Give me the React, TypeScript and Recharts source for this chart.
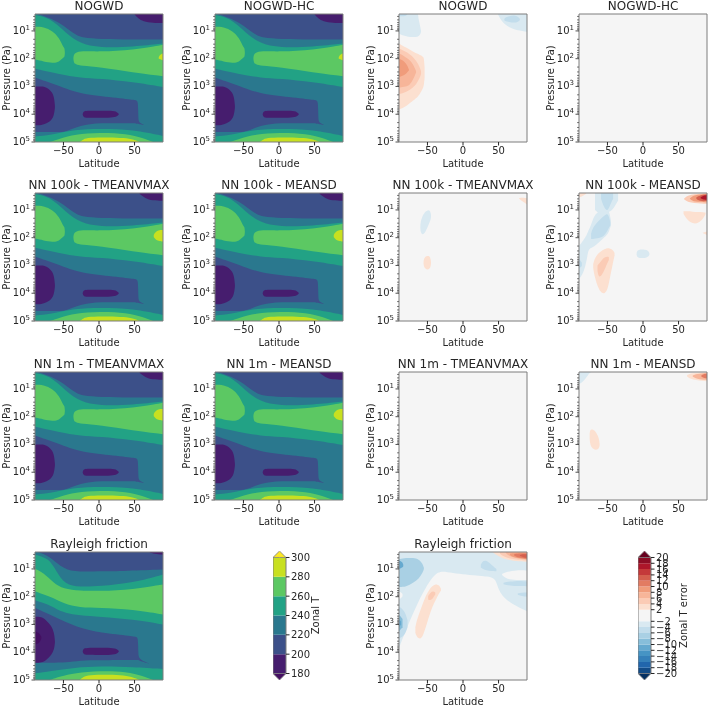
import React from 'react';
import { ComposedChart, Area, XAxis, YAxis, ReferenceArea, ReferenceLine } from 'recharts';

type Pt = [number, number, number];
type Layer = { fill: string; pts: Pt[] };

const FONT = '"DejaVu Sans", sans-serif';
const INK = '#262626';
const EDGE = '#7d7d7d';

// viridis contour bands
const V1 = '#461d6e', V2 = '#3c5089', V3 = '#2a788e', V4 = '#22a285', V5 = '#5cc863', V6 = '#c8e020';
// RdBu_r contour bands
const NEUTRAL = '#f5f5f5';
const R1 = '#fce0d0', R2 = '#fbcbb5', R3 = '#f7b599', R4 = '#f09c7b', R5 = '#e27b62', R6 = '#d45f4e', R7 = '#c4393a', R8 = '#ad162a', R9 = '#8c0d25', R10 = '#67001f';
const B1 = '#d9e9f1', B2 = '#c2ddec', B3 = '#a9d0e4', B4 = '#87beda', B5 = '#65a9cf', B6 = '#4694c4', B7 = '#3580b9', B8 = '#2166ac', B9 = '#134c87', B10 = '#053061';

// every point is [latitude, log10 pressure upper edge, log10 pressure lower edge]
const fullField: Pt[] = [[-90, 0.3, 5.1], [90, 0.3, 5.1]];

const tUpperGreen: Pt[] = [[-90, 0.43, 2.36], [-69, 0.52, 2.48], [-46, 1.09, 2.6], [-27, 1.45, 2.68], [1, 1.61, 2.72], [48, 1.57, 2.84], [90, 1.45, 3.02]];
const tTopBlue: Pt[] = [[-86, 0.3, 0.39], [-55, 0.3, 0.67], [-34, 0.3, 1.15], [-18, 0.3, 1.31], [90, 0.3, 1.31]];
const tLeftLight: Pt[] = [[-90, 0.85, 2.03], [-78, 0.85, 2.1], [-65, 1.0, 2.16], [-56, 1.25, 2.12], [-50, 1.6, 1.95], [-48.5, 1.6, 1.95], [-48, 1.78, 1.8]];
const tRightLight: Pt[] = [[-36, 1.98, 2.0], [-35.5, 1.86, 2.14], [-33, 1.78, 2.2], [-25, 1.72, 2.26], [1, 1.75, 2.3], [48, 1.69, 2.5], [90, 1.5, 2.63]];
const tMidBlue: Pt[] = [[-90, 2.68, 4.64], [-62, 2.92, 4.64], [-46, 3.08, 4.64], [-27, 3.25, 4.4], [1, 3.35, 4.31], [48, 3.48, 4.33], [53, 3.5, 4.34], [54.5, 3.55, 4.34], [55, 3.75, 4.34], [55.3, 4.15, 4.34], [56, 4.3, 4.36], [63, 4.37, 4.38]];
const tLowGreen: Pt[] = [[-90, 4.8, 5.1], [-69, 4.76, 5.1], [-34, 4.55, 5.1], [1, 4.52, 5.1], [48, 4.55, 5.1], [90, 4.78, 5.1]];
const tLowLight: Pt[] = [[-69, 5.0, 5.1], [-55, 4.88, 5.1], [-34, 4.72, 5.1], [1, 4.66, 5.1], [39, 4.7, 5.1], [62, 4.86, 5.1], [76, 5.0, 5.1]];
const tLowYellow: Pt[] = [[-27, 5.0, 5.1], [-22, 4.9, 5.1], [-15, 4.84, 5.1], [15, 4.83, 5.1], [35, 4.85, 5.1], [50, 4.92, 5.1], [57, 5.0, 5.1]];
const tLeftPurple: Pt[] = [[-90, 3.0, 4.4], [-81, 3.0, 4.4], [-74, 3.02, 4.34], [-66, 3.2, 4.2], [-63, 3.4, 4.0], [-62, 3.7, 3.76]];
const tMidPurple: Pt[] = [[-23, 4.0, 4.0], [-22, 3.9, 4.1], [-18, 3.87, 4.13], [0, 3.87, 4.13], [18, 3.87, 4.13], [26, 3.92, 4.08], [28, 4.0, 4.0]];
const tTopPurple: Pt[] = [[50, 0.3, 0.4], [55, 0.3, 0.55], [62, 0.3, 0.66], [76, 0.3, 0.71], [90, 0.3, 0.71]];
const tTipYellow: Pt[] = [[84, 1.95, 2.0], [86, 1.85, 2.02], [90, 1.81, 2.06]];
const nnTopPurple: Pt[] = [[57, 0.3, 0.42], [65, 0.3, 0.58], [75, 0.3, 0.67], [90, 0.3, 0.67]];
const nnTipYellow: Pt[] = [[77, 1.9, 1.98], [80, 1.78, 2.08], [85, 1.72, 2.12], [90, 1.72, 2.14]];

const rfUpperGreen: Pt[] = [[-90, 0.485, 2.13], [-71, 0.605, 2.28], [-60, 1.08, 2.45], [-48, 1.56, 2.58], [-27, 1.65, 2.68], [1, 1.62, 2.72], [48, 1.5, 2.82], [90, 1.2, 3.0]];
const rfTopBlue: Pt[] = [[-88, 0.3, 0.37], [-69, 0.3, 0.545], [-55, 0.3, 0.905], [-36, 0.3, 1.12], [1, 0.3, 1.08], [29, 0.3, 1.08], [90, 0.3, 1.02]];
const rfLight: Pt[] = [[-90, 1.0, 1.8], [-78, 1.14, 1.92], [-64, 1.5, 2.04], [-50, 1.72, 2.25], [-27, 1.78, 2.4], [1, 1.8, 2.4], [48, 1.74, 2.46], [90, 1.56, 2.64]];
const rfMidBlue: Pt[] = [[-90, 2.4, 4.38], [-69, 2.64, 4.38], [-46, 2.92, 4.38], [-27, 3.12, 4.29], [1, 3.3, 4.29], [48, 3.42, 4.28], [53, 3.45, 4.28], [54.5, 3.5, 4.28], [55, 3.7, 4.28], [55.3, 4.05, 4.28], [56, 4.25, 4.3], [70, 4.4, 4.41]];
const rfLowGreen: Pt[] = [[-90, 4.76, 5.1], [-69, 4.68, 5.1], [-34, 4.55, 5.1], [1, 4.5, 5.1], [48, 4.53, 5.1], [90, 4.6, 5.1]];
const rfLowLight: Pt[] = [[-69, 5.0, 5.1], [-55, 4.88, 5.1], [-34, 4.75, 5.1], [1, 4.67, 5.1], [39, 4.7, 5.1], [62, 4.86, 5.1], [76, 5.0, 5.1]];
const rfLowYellow: Pt[] = [[-27, 5.0, 5.1], [-22, 4.88, 5.1], [-15, 4.82, 5.1], [15, 4.81, 5.1], [35, 4.83, 5.1], [50, 4.92, 5.1], [57, 5.0, 5.1]];
const rfLeftPurple: Pt[] = [[-90, 2.72, 4.38], [-81, 2.72, 4.38], [-74, 2.85, 4.28], [-67, 3.05, 4.1], [-63, 3.3, 3.9], [-62, 3.6, 3.65]];
const rfCorePurple: Pt[] = [[-90, 3.24, 3.72], [-84, 3.3, 3.68], [-81, 3.45, 3.5]];
const rfMidPurple: Pt[] = [[-23, 3.97, 3.97], [-22, 3.87, 4.07], [-18, 3.84, 4.1], [0, 3.84, 4.1], [18, 3.84, 4.1], [26, 3.89, 4.05], [28, 3.97, 3.97]];
const rfTopPurple: Pt[] = [[70, 0.3, 0.38], [78, 0.3, 0.47], [90, 0.3, 0.485]];

const baseField = (green: Pt[], blue: Pt[], mid: Pt[], low: Pt[], lowLight: Pt[], lowYellow: Pt[]): Layer[] => [
  { fill: V3, pts: fullField },
  { fill: V4, pts: green },
  { fill: V2, pts: blue },
  { fill: V2, pts: mid },
  { fill: V4, pts: low },
  { fill: V5, pts: lowLight },
  { fill: V6, pts: lowYellow },
];

const tNogwd: Layer[] = [
  ...baseField(tUpperGreen, tTopBlue, tMidBlue, tLowGreen, tLowLight, tLowYellow),
  { fill: V5, pts: tLeftLight }, { fill: V5, pts: tRightLight },
  { fill: V1, pts: tLeftPurple }, { fill: V1, pts: tMidPurple }, { fill: V1, pts: tTopPurple }, { fill: V6, pts: tTipYellow },
];
const tNn: Layer[] = [
  ...baseField(tUpperGreen, tTopBlue, tMidBlue, tLowGreen, tLowLight, tLowYellow),
  { fill: V5, pts: tLeftLight }, { fill: V5, pts: tRightLight },
  { fill: V1, pts: tLeftPurple }, { fill: V1, pts: tMidPurple }, { fill: V1, pts: nnTopPurple }, { fill: V6, pts: nnTipYellow },
];
const tRayleigh: Layer[] = [
  ...baseField(rfUpperGreen, rfTopBlue, rfMidBlue, rfLowGreen, rfLowLight, rfLowYellow),
  { fill: V5, pts: rfLight },
  { fill: V1, pts: rfLeftPurple }, { fill: '#440f62', pts: rfCorePurple }, { fill: V1, pts: rfMidPurple }, { fill: V1, pts: rfTopPurple },
];

// error panels
const eBackground: Layer = { fill: NEUTRAL, pts: fullField };
const errNogwd: Layer[] = [
  eBackground,
  { fill: B1, pts: [[-90, 0.3, 1.1], [-80, 0.3, 1.2], [-68, 0.3, 1.23], [-63.5, 0.3, 1.2], [-62.5, 0.6, 1.2], [-60, 0.85, 1.12], [-59, 1.0, 1.03]] },
  { fill: B2, pts: [[-90, 0.3, 0.47], [-80, 0.3, 0.47], [-78, 0.3, 0.4]] },
  { fill: B1, pts: [[49, 0.3, 0.4], [56, 0.3, 0.74], [70, 0.3, 0.95], [90, 0.3, 1.03]] },
  { fill: B2, pts: [[58, 0.6, 0.6], [58.5, 0.52, 0.64], [65, 0.47, 0.68], [72, 0.43, 0.71], [78, 0.5, 0.67], [80, 0.57, 0.6]] },
  { fill: R1, pts: [[-90, 1.45, 3.83], [-80, 1.6, 3.72], [-70, 1.75, 3.5], [-63, 1.83, 3.38], [-56, 1.93, 3.05], [-55, 1.97, 2.95], [-54, 2.3, 2.7]] },
  { fill: R2, pts: [[-90, 1.63, 3.28], [-80, 1.75, 3.2], [-73, 1.87, 3.1], [-65, 2.1, 2.9], [-61, 2.3, 2.7], [-59, 2.45, 2.55]] },
  { fill: R3, pts: [[-90, 1.81, 3.04], [-80, 1.95, 3.0], [-75, 2.05, 2.95], [-70, 2.2, 2.75], [-66, 2.45, 2.5]] },
  { fill: R4, pts: [[-90, 1.99, 2.66], [-82, 2.1, 2.6], [-78, 2.25, 2.48], [-76, 2.4, 2.42]] },
];
const errEmpty: Layer[] = [eBackground];
const err100kVmax: Layer[] = [
  eBackground,
  { fill: B1, pts: [[-60, 1.6, 1.66], [-59.5, 1.42, 1.8], [-58, 1.28, 1.88], [-54, 1.08, 1.88], [-48, 0.98, 1.5], [-45.5, 1.08, 1.35], [-45, 1.18, 1.26]] },
  { fill: R1, pts: [[-55.5, 2.88, 2.92], [-55, 2.76, 3.04], [-53, 2.68, 3.12], [-50, 2.65, 3.16], [-47, 2.66, 3.12], [-45.5, 2.76, 3.04], [-45, 2.88, 2.92]] },
  { fill: R1, pts: [[79, 0.57, 0.6], [84, 0.56, 0.7], [90, 0.58, 0.8]] },
];
const err100kMeansd: Layer[] = [
  eBackground,
  { fill: B1, pts: [[-90, 2.3, 3.48], [-84, 2.1, 3.3], [-79, 1.9, 2.82], [-77, 1.75, 2.42], [-73, 1.56, 2.37], [-68, 1.1, 2.32], [-55, 1.0, 2.0], [-49, 1.0, 1.86], [-47, 1.1, 1.7], [-45, 1.4, 1.55]] },
  { fill: B1, pts: [[-67.5, 0.3, 1.0], [-60, 0.3, 1.2], [-50, 0.3, 1.08], [-47, 0.3, 1.08], [-40, 0.3, 0.9], [-35, 0.3, 0.66]] },
  { fill: B2, pts: [[-59, 0.3, 0.6], [-55, 0.3, 0.9], [-50, 0.3, 1.08], [-46, 0.3, 0.8], [-42, 0.3, 0.6]] },
  { fill: B2, pts: [[-73, 1.85, 2.05], [-70, 1.6, 2.05], [-59, 1.3, 2.0], [-54, 1.2, 1.92], [-49, 1.1, 1.7], [-46, 1.45, 1.55]] },
  { fill: B2, pts: [[-90, 2.76, 3.12], [-86, 2.9, 3.02]] },
  { fill: B1, pts: [[-9, 2.58, 2.6], [-8.5, 2.47, 2.7], [-5, 2.43, 2.73], [0, 2.42, 2.74], [5, 2.44, 2.72], [8.5, 2.5, 2.66], [9, 2.57, 2.6]] },
  { fill: R1, pts: [[-70, 2.95, 3.1], [-68, 2.75, 3.4], [-64, 2.6, 3.75], [-60, 2.5, 3.95], [-55, 2.42, 4.04], [-50, 2.37, 3.9], [-47, 2.38, 3.5], [-43, 2.42, 3.0], [-40, 2.55, 2.65]] },
  { fill: R2, pts: [[-64, 3.0, 3.2], [-62, 2.95, 3.44], [-58, 2.8, 3.35], [-54, 2.7, 3.15], [-50, 2.68, 2.9], [-48, 2.7, 2.8]] },
  { fill: R1, pts: [[57, 1.05, 1.15], [62, 1.05, 1.35], [70, 1.06, 1.5], [78, 1.08, 1.48], [85, 1.08, 1.3], [88, 1.1, 1.15]] },
  { fill: R1, pts: [[84, 1.82, 1.83], [90, 1.78, 1.9]] },
  { fill: R1, pts: [[-90, 0.3, 0.55], [-85, 0.3, 0.5], [-80, 0.3, 0.42]] },
  { fill: R2, pts: [[58, 0.58, 0.62], [65, 0.44, 0.75], [90, 0.4, 0.78]] },
  { fill: R4, pts: [[66, 0.58, 0.6], [72, 0.46, 0.72], [90, 0.42, 0.72]] },
  { fill: R6, pts: [[75, 0.55, 0.6], [80, 0.47, 0.69], [90, 0.44, 0.68]] },
  { fill: R8, pts: [[81, 0.55, 0.58], [85, 0.48, 0.64], [90, 0.47, 0.63]] },
];
const err1mMeansd: Layer[] = [
  eBackground,
  { fill: B1, pts: [[-90, 0.3, 0.82], [-85, 0.3, 0.75], [-80, 0.3, 0.6], [-75, 0.3, 0.42], [-73, 0.3, 0.39]] },
  { fill: R1, pts: [[-75, 2.6, 2.8], [-74.5, 2.5, 2.95], [-73, 2.45, 3.1], [-68, 2.47, 3.2], [-63, 2.7, 3.18], [-61.5, 2.85, 3.1], [-61, 2.97, 3.03]] },
  { fill: R1, pts: [[62, 0.5, 0.55], [68, 0.43, 0.67], [90, 0.4, 0.72]] },
  { fill: R3, pts: [[70, 0.52, 0.56], [75, 0.46, 0.64], [90, 0.42, 0.68]] },
  { fill: R5, pts: [[82, 0.52, 0.55], [85, 0.46, 0.6], [90, 0.45, 0.62]] },
];
const errRayleigh: Layer[] = [
  eBackground,
  { fill: B1, pts: [[-90, 0.3, 3.84], [-80, 0.3, 3.18], [-68, 0.3, 2.46], [-52, 0.3, 1.62], [-35, 0.3, 1.02], [-19, 0.3, 1.15], [28, 0.3, 1.26], [42, 0.3, 1.3], [47, 0.3, 1.44], [51, 0.3, 1.86], [65, 0.3, 2.22], [90, 0.3, 2.52]] },
  { fill: NEUTRAL, pts: [[55, 1.18, 1.22], [62, 1.1, 1.38], [75, 1.04, 1.4], [90, 1.06, 1.4]] },
  { fill: NEUTRAL, pts: [[-90, 1.8, 2.1], [-87, 1.85, 2.05], [-85, 1.9, 1.98]] },
  { fill: B3, pts: [[-90, 0.65, 1.65], [-80, 0.6, 1.65], [-70, 0.6, 1.5], [-62, 0.65, 1.35], [-57, 0.8, 1.15], [-55, 0.96, 1.0]] },
  { fill: B5, pts: [[-90, 0.7, 1.0], [-85, 0.75, 0.95], [-84, 0.85, 0.9]] },
  { fill: B2, pts: [[-90, 2.36, 3.5], [-82, 2.5, 3.4], [-78, 2.85, 3.1]] },
  { fill: B4, pts: [[-90, 2.64, 3.24], [-85, 2.8, 3.1]] },
  { fill: B5, pts: [[-90, 2.8, 3.1], [-87, 2.9, 3.0]] },
  { fill: B2, pts: [[25, 0.85, 0.95], [28, 0.7, 1.0], [33, 0.69, 1.05], [40, 0.85, 1.08], [47, 1.0, 1.08]] },
  { fill: B2, pts: [[57, 1.5, 1.55], [65, 1.45, 1.6], [80, 1.42, 1.62], [90, 1.45, 1.62]] },
  { fill: B2, pts: [[77, 1.88, 1.93], [83, 1.85, 1.98], [90, 1.85, 2.0]] },
  { fill: R1, pts: [[-67, 3.1, 3.3], [-65, 2.85, 3.45], [-60, 2.5, 3.54], [-56, 2.2, 3.4], [-50, 1.85, 2.9], [-44, 1.62, 2.4], [-38, 1.53, 2.1], [-33, 1.6, 1.85], [-31, 1.72, 1.78]] },
  { fill: R2, pts: [[-49, 1.98, 2.1], [-46, 1.85, 2.14], [-42, 1.8, 2.05], [-39, 1.85, 1.92]] },
  { fill: R1, pts: [[42, 0.3, 0.4], [50, 0.3, 0.55], [60, 0.3, 0.66], [75, 0.3, 0.72], [90, 0.3, 0.74]] },
  { fill: R2, pts: [[52, 0.3, 0.45], [60, 0.3, 0.62], [90, 0.3, 0.7]] },
  { fill: R3, pts: [[60, 0.3, 0.42], [66, 0.38, 0.58], [90, 0.4, 0.67]] },
  { fill: R4, pts: [[66, 0.45, 0.5], [72, 0.42, 0.6], [90, 0.42, 0.65]] },
  { fill: R5, pts: [[72, 0.47, 0.52], [78, 0.44, 0.6], [90, 0.44, 0.63]] },
  { fill: R6, pts: [[80, 0.5, 0.53], [85, 0.47, 0.58], [90, 0.47, 0.6]] },
];

const columnLefts = [35, 215, 399, 579];
const rowTops = [14, 193, 372, 552];

const panels: { title: string; col: number; row: number; layers: Layer[] }[] = [
  { title: 'NOGWD', col: 0, row: 0, layers: tNogwd },
  { title: 'NOGWD-HC', col: 1, row: 0, layers: tNogwd },
  { title: 'NOGWD', col: 2, row: 0, layers: errNogwd },
  { title: 'NOGWD-HC', col: 3, row: 0, layers: errEmpty },
  { title: 'NN 100k - TMEANVMAX', col: 0, row: 1, layers: tNn },
  { title: 'NN 100k - MEANSD', col: 1, row: 1, layers: tNn },
  { title: 'NN 100k - TMEANVMAX', col: 2, row: 1, layers: err100kVmax },
  { title: 'NN 100k - MEANSD', col: 3, row: 1, layers: err100kMeansd },
  { title: 'NN 1m - TMEANVMAX', col: 0, row: 2, layers: tNn },
  { title: 'NN 1m - MEANSD', col: 1, row: 2, layers: tNn },
  { title: 'NN 1m - TMEANVMAX', col: 2, row: 2, layers: errEmpty },
  { title: 'NN 1m - MEANSD', col: 3, row: 2, layers: err1mMeansd },
  { title: 'Rayleigh friction', col: 0, row: 3, layers: tRayleigh },
  { title: 'Rayleigh friction', col: 2, row: 3, layers: errRayleigh },
];

const latTicks = [-50, 0, 50];
const decades = [1, 2, 3, 4, 5];
const mantissas = [2, 3, 4, 5, 6, 7, 8, 9];
const TOP_LOG = 0.39;
const pressureTicks = [
  ...decades,
  ...[0, 1, 2, 3, 4].flatMap((d) => mantissas.map((m) => d + Math.log10(m))).filter((v) => v > TOP_LOG),
];

const tLevels = [180, 200, 220, 240, 260, 280, 300];
const tBandColors = [V1, V2, V3, V4, V5, V6];
const tUnder = '#440f62';
const tOver = '#fde725';
const eLevels = [-20, -18, -16, -14, -12, -10, -8, -6, -4, -2, 2, 4, 6, 8, 10, 12, 14, 16, 18, 20];
const eBandColors = [B9, B8, B7, B6, B5, B4, B3, B2, B1, NEUTRAL, R1, R2, R3, R4, R5, R6, R7, R8, R9];

const fmtLat = (v: number) => (v < 0 ? `\u2212${Math.abs(v)}` : `${v}`);

const PressureTick = (props: any) => {
  const { x, y, payload } = props;
  const v = payload.value as number;
  const major = Number.isInteger(v);
  return (
    <g>
      <line x1={x} x2={x - (major ? 3.5 : 2)} y1={y} y2={y} stroke={INK} strokeWidth={major ? 0.8 : 0.6} />
      {major ? (
        <text x={x - 5} y={y + 3} textAnchor="end" fontFamily={FONT} fontSize={10} fill={INK}>
          10<tspan dy={-4} fontSize={7}>{v}</tspan>
        </text>
      ) : null}
    </g>
  );
};

const series = (pts: Pt[]) => pts.map(([lat, lo, hi]) => ({ lat, band: [lo, hi] }));

const Panel = ({ title, left, top, layers }: { title: string; left: number; top: number; layers: Layer[] }) => (
  <>
    <div style={{ position: 'absolute', left: left - 40, width: 208, top: top - 15, textAlign: 'center', fontFamily: FONT, fontSize: 12, lineHeight: '14px', color: INK, whiteSpace: 'nowrap' }}>
      {title}
    </div>
    <div style={{ position: 'absolute', left: left - 40, top: top - 4 }}>
      <ComposedChart width={180} height={166} margin={{ top: 4, right: 12, bottom: 0, left: 0 }}>
        <XAxis type="number" dataKey="lat" domain={[-90, 90]} allowDataOverflow ticks={latTicks} tickFormatter={fmtLat} height={34} tickSize={3.5} tickMargin={1} interval={0} stroke={INK} axisLine={false} tick={{ fontFamily: FONT, fontSize: 10, fill: INK }} label={{ value: 'Latitude', position: 'insideBottom', offset: 9, style: { fontFamily: FONT, fontSize: 10, fill: INK } }} />
        <YAxis type="number" domain={[TOP_LOG, 5]} allowDataOverflow reversed ticks={pressureTicks} interval={0} width={40} tickSize={0} tickMargin={0} tickLine={false} axisLine={false} tick={<PressureTick />} label={{ value: 'Pressure (Pa)', angle: -90, position: 'insideLeft', offset: 11, style: { fontFamily: FONT, fontSize: 10, fill: INK, textAnchor: 'middle' } }} />
        {layers.map((l, i) => (
          <Area key={i} data={series(l.pts)} dataKey="band" type="basis" fill={l.fill} fillOpacity={1} stroke="none" dot={false} activeDot={false} isAnimationActive={false} />
        ))}
        <ReferenceArea x1={-90} x2={90} y1={TOP_LOG} y2={5} fill="none" stroke={EDGE} strokeWidth={1} ifOverflow="visible" />
      </ComposedChart>
    </div>
  </>
);

const cap = (a: number, b: number, tip: number) => [
  { pos: 0, band: [a, b] },
  { pos: 0.5, band: [a, tip] },
  { pos: 1, band: [a, b] },
];

const Colorbar = ({ left, top, levels, colors, under, over, ticks, tickLabel, pad, title, labelOffset }: any) => {
  const lo = levels[0];
  const hi = levels[levels.length - 1];
  const domain = [lo - pad, hi + pad];
  return (
    <div style={{ position: 'absolute', left, top: top - 4 }}>
      <ComposedChart width={70} height={137} margin={{ top: 4, right: 0, bottom: 4, left: 0 }}>
        <XAxis type="number" dataKey="pos" domain={[0, 1]} hide />
        <YAxis type="number" orientation="right" domain={domain} allowDataOverflow ticks={ticks} interval={0} width={57} tickFormatter={tickLabel} tickSize={3.5} tickMargin={1.5} stroke={INK} axisLine={false} tick={{ fontFamily: FONT, fontSize: 10, fill: INK }} label={{ value: title, angle: -90, position: 'insideRight', offset: labelOffset, style: { fontFamily: FONT, fontSize: 10, fill: INK, textAnchor: 'middle' } }} />
        {colors.map((c: string, i: number) => (
          <Area key={i} data={[{ pos: 0, band: [levels[i], levels[i + 1]] }, { pos: 1, band: [levels[i], levels[i + 1]] }]} dataKey="band" type="linear" fill={c} fillOpacity={1} stroke="none" dot={false} activeDot={false} isAnimationActive={false} />
        ))}
        <Area data={cap(hi, hi, hi + pad)} dataKey="band" type="linear" fill={over} fillOpacity={1} stroke={EDGE} strokeWidth={0.8} dot={false} activeDot={false} isAnimationActive={false} />
        <Area data={cap(lo, lo, lo - pad)} dataKey="band" type="linear" fill={under} fillOpacity={1} stroke={EDGE} strokeWidth={0.8} dot={false} activeDot={false} isAnimationActive={false} />
        <ReferenceLine segment={[{ x: 0, y: lo }, { x: 0, y: hi }]} stroke={EDGE} ifOverflow="visible" />
        <ReferenceLine segment={[{ x: 1, y: lo }, { x: 1, y: hi }]} stroke={EDGE} ifOverflow="visible" />
      </ComposedChart>
    </div>
  );
};

const tBarTicks = tLevels;
const eBarTicks = eLevels;

export default function App() {
  return (
    <div style={{ position: 'absolute', left: 0, top: 0, width: 709, height: 706, overflow: 'hidden', background: '#fff', filter: 'blur(0.4px)' }}>
      {panels.map((p, i) => (
        <Panel key={i} title={p.title} left={columnLefts[p.col]} top={rowTops[p.row]} layers={p.layers} />
      ))}
      <Colorbar left={273} top={551} levels={tLevels} colors={tBandColors} under={tUnder} over={tOver} ticks={tBarTicks} tickLabel={(v: number) => `${v}`} pad={6.7} title="Zonal T" labelOffset={28} />
      <Colorbar left={638} top={551} levels={eLevels} colors={eBandColors} under={B10} over={R10} ticks={eBarTicks} tickLabel={fmtLat} pad={2.24} title="Zonal T error" labelOffset={25} />
    </div>
  );
}
